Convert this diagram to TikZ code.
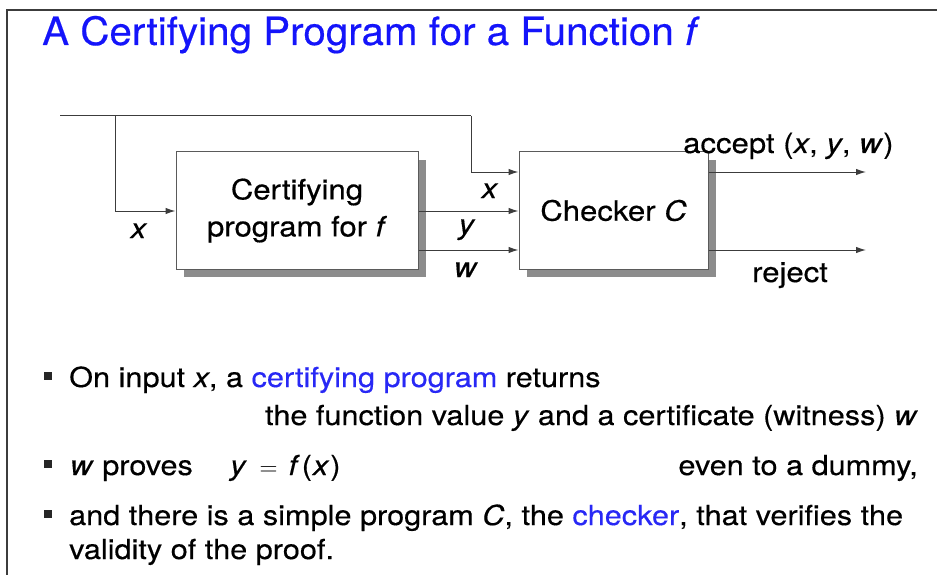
\documentclass[tikz,border=0pt]{standalone}
\usepackage{fontspec}
\setmainfont{TeX Gyre Heros}[FakeStretch=1.11,FakeBold=0.4]
\newfontfamily\titlefont{TeX Gyre Heros}[FakeStretch=1.035,FakeBold=0.4]
\usetikzlibrary{arrows.meta,shadows}
\definecolor{titleblue}{RGB}{20,20,250}
\definecolor{hlblue}{RGB}{40,40,245}
\definecolor{wire}{RGB}{60,60,60}
\definecolor{boxline}{RGB}{90,90,90}
\definecolor{shade}{RGB}{140,140,140}
\definecolor{framec}{RGB}{60,60,60}
\tikzset{
  box/.style={draw=boxline, line width=1pt, fill=white, inner sep=0pt,
    align=center, font=\fontsize{28}{37}\selectfont,
    general shadow={fill=shade, shadow xshift=8pt, shadow yshift=-8pt}},
  wirearrow/.style={draw=wire, line width=1pt, -{Latex[length=10pt,width=6.5pt]}},
  wireline/.style={draw=wire, line width=1pt},
  lbl/.style={inner sep=0pt, font=\fontsize{28}{34}\selectfont},
  body/.style={inner sep=0pt, font=\fontsize{27.6}{32}\selectfont},
  bulletsq/.style={fill=black!85, inner sep=0pt, minimum size=8.5pt},
}
\begin{document}
\begin{tikzpicture}[x=1pt,y=-1pt]
\useasboundingbox (0,0) rectangle (937,575);

% slide frame
\draw[framec, line width=1.5pt] (7,575) -- (7,10) -- (937,10);

% title
\node[inner sep=0pt, anchor=base west, text=titleblue,
      font=\titlefont\fontsize{39}{45}\selectfont] (title) at (42,45)
  {A Certifying Program for a Function \textit{f}};

% blocks
\node[box, minimum width=242pt, minimum height=117pt] (cert) at (297,210.5)
  {Certifying\\program for \textit{f}};
\node[box, minimum width=189pt, minimum height=117pt] (chk) at (613.5,210.5)
  {Checker \textit{C}};

% input wiring
\coordinate (in) at (60,116);
\coordinate (split) at (115,116);
\coordinate (turn) at (471,116);
\coordinate (xin) at (chk.west |- 0,172);
\coordinate (yin) at (chk.west |- 0,211);
\coordinate (win) at (chk.west |- 0,250);
\coordinate (yout) at (cert.east |- 0,211);
\coordinate (wout) at (cert.east |- 0,250);
\coordinate (certin) at (cert.west |- 0,211);

\draw[wireline] (in) -- (turn);
\draw[wirearrow] (turn) |- (xin);
\draw[wirearrow] (split) |- (certin);
\draw[wirearrow] (yout) -- (yin);
\draw[wirearrow] (wout) -- (win);

% outputs
\coordinate (acc0) at (chk.east |- 0,172);
\coordinate (acc1) at (866,172);
\coordinate (rej0) at (chk.east |- 0,250);
\coordinate (rej1) at (866,250);
\draw[wirearrow] (acc0) -- (acc1);
\draw[wirearrow] (rej0) -- (rej1);

% wire labels
\node[lbl, anchor=base] (lx) at (139,238) {\textit{x}};
\node[lbl, anchor=base] (lx2) at (490,198) {\textit{x}};
\node[lbl, anchor=base] (ly) at (467,234) {\textit{y}};
\node[lbl, anchor=base] (lw) at (466,277) {\textit{w}};
\node[lbl, anchor=base west] (lacc) at (683,153) {accept (\textit{x}, \textit{y}, \textit{w})};
\node[lbl, anchor=base west] (lrej) at (752,282) {reject};

% bullet list
\node[bulletsq] (b1) at (48,376) {};
\node[bulletsq] (b2) at (48,464) {};
\node[bulletsq] (b3) at (48,514) {};

\node[body, anchor=base west] (t1) at (69,387)
  {On input \textit{x}, a \textcolor{hlblue}{certifying program} returns};
\node[body, anchor=base east] (t2) at (918,425)
  {the function value \textit{y} and a certificate (witness) \textit{w}};
\node[body, anchor=base west] (t3a) at (70,475) {\textit{w} proves};
\node[body, anchor=base west] (t3b) at (230,475)
  {\textit{y}\hspace{13pt}$=$\hspace{11pt}\textit{f}\hspace{2pt}(\hspace{1pt}\textit{x}\hspace{1pt})};
\node[body, anchor=base east] (t3c) at (918,475) {even to a dummy,};
\node[body, anchor=base west] (t4) at (69,525)
  {and there is a simple program \textit{C}, the \textcolor{hlblue}{checker}, that verifies the};
\node[body, anchor=base west] (t5) at (69,559) {validity of the proof.};
\end{tikzpicture}
\end{document}
